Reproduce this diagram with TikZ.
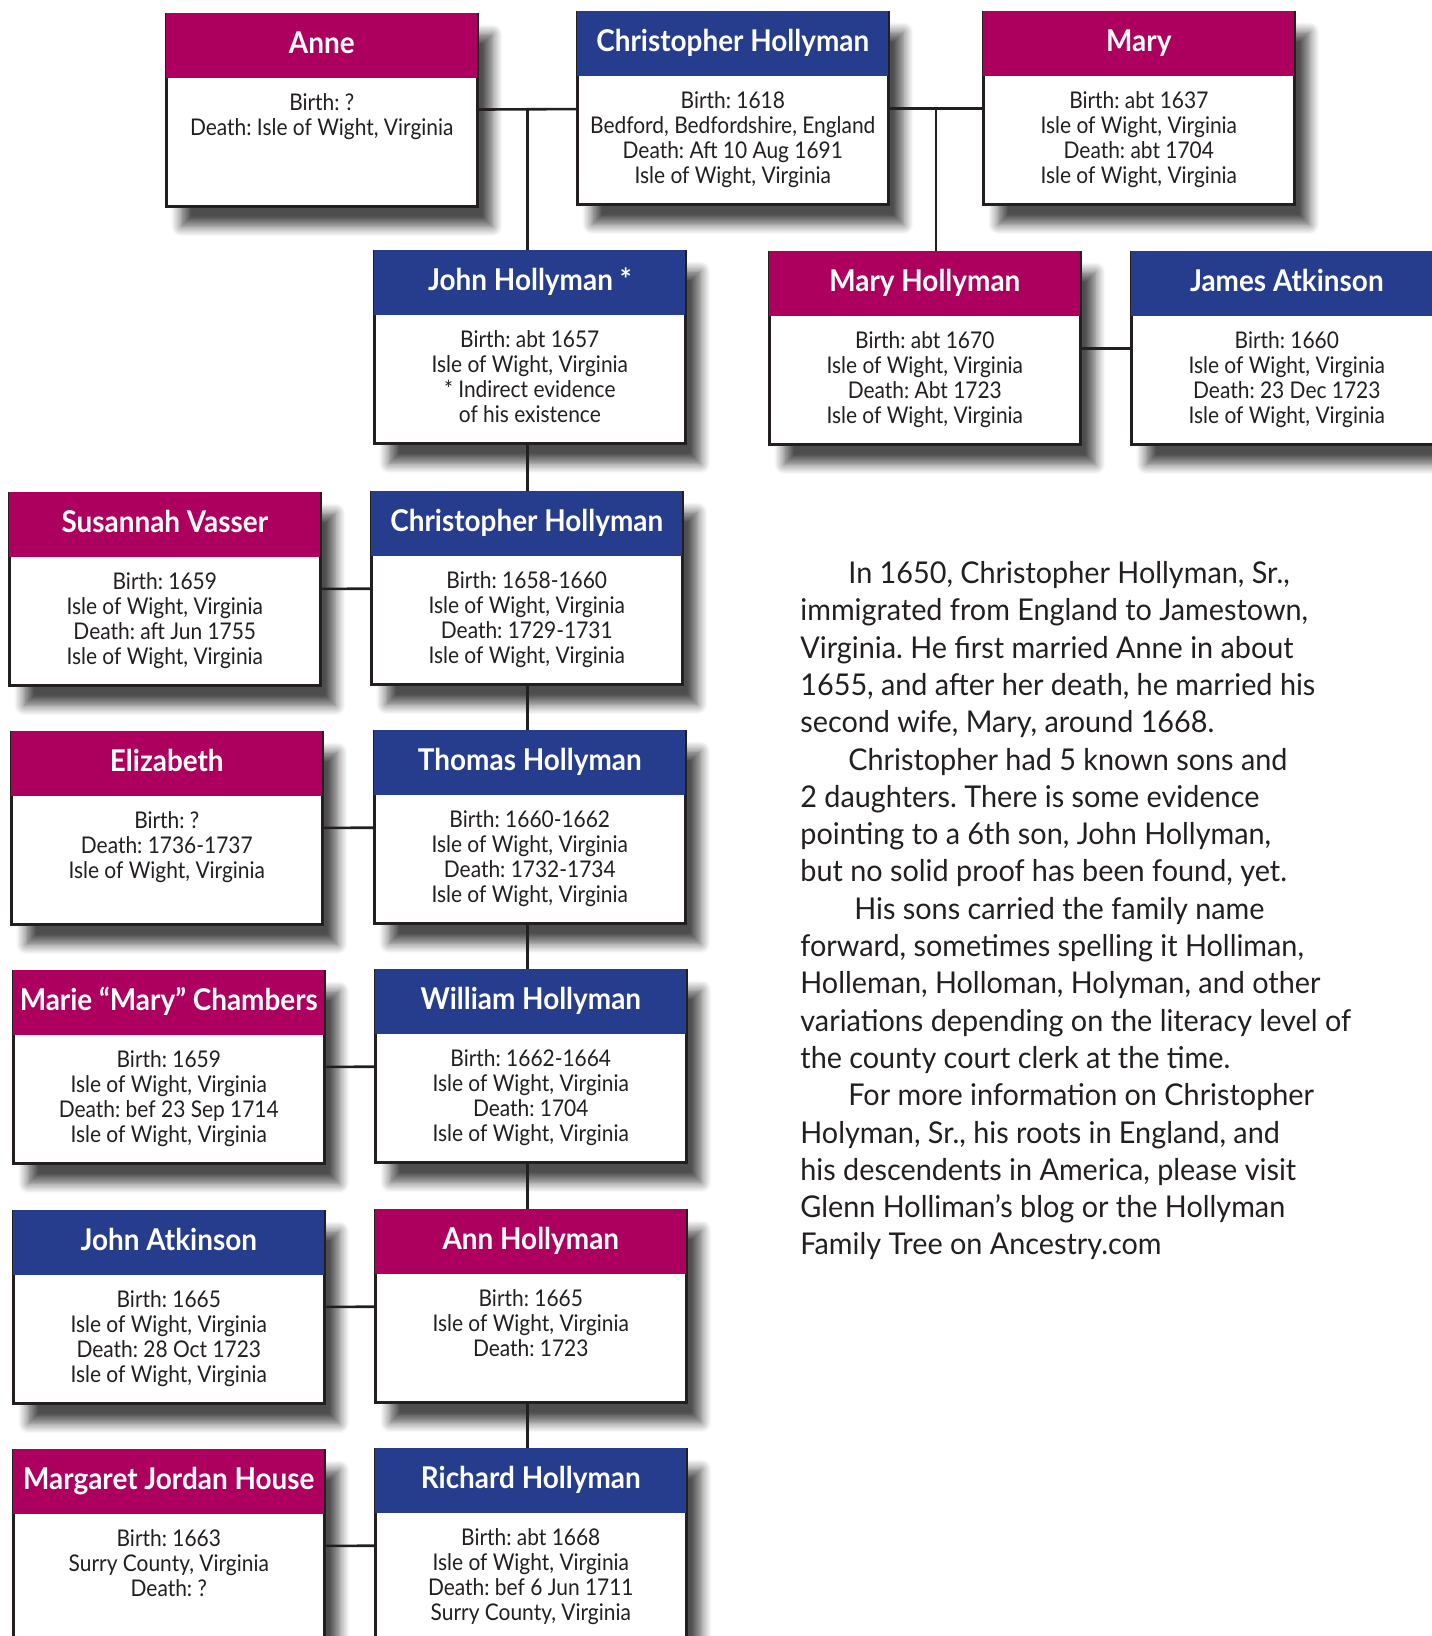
\documentclass[tikz,border=0pt]{standalone}
\usepackage{fontspec}
\setmainfont{Lato}
\newfontfamily\headfont{Lato}[FakeStretch=0.93]
\newfontfamily\infofont{Lato}[FakeStretch=0.91]
\newfontfamily\storyfont{Lato}[FakeStretch=0.96]
\usetikzlibrary{calc,shadows.blur}
\definecolor{rose}{RGB}{173,0,94}
\definecolor{navy}{RGB}{37,61,140}
\definecolor{ink}{RGB}{35,31,32}
\frenchspacing

\begin{document}
\begin{tikzpicture}[x=0.5pt,y=-0.5pt,
    card/.style={draw=ink,line width=1.3pt,fill=white,inner sep=0pt,anchor=north west,
      blur shadow={shadow xshift=7.5pt,shadow yshift=-10pt,shadow blur radius=5pt,shadow blur steps=8,shadow opacity=70},
      text=ink,font={\infofont\fontsize{11.5pt}{12.5pt}\selectfont},
      execute at begin node={\begin{minipage}[t][96pt][t]{155.5pt}\centering\vspace*{39.5pt}},
      execute at end node={\end{minipage}}},
    head/.style={fill=#1,text=white,font={\headfont\bfseries\fontsize{15pt}{17pt}\selectfont},
      minimum width=155.5pt,minimum height=32.5pt,inner sep=0pt,anchor=north,
      text height=10.5pt,text depth=2.5pt},
    tie/.style={draw=ink,line width=1.3pt}]
\useasboundingbox (0,0) rectangle (1431,1636);

% parents
\node[card] (anne) at (165,13) {Birth: ?\\Death: Isle of Wight, Virginia};
\node[head=rose] (anne-h) at (anne.north) {Anne};
\node[card] (chris) at (576,11) {Birth: 1618\\Bedford, Bedfordshire, England\\Death: Aft 10 Aug 1691\\Isle of Wight, Virginia};
\node[head=navy] (chris-h) at (chris.north) {Christopher Hollyman};
\node[card] (mary) at (982,11) {Birth: abt 1637\\Isle of Wight, Virginia\\Death: abt 1704\\Isle of Wight, Virginia};
\node[head=rose] (mary-h) at (mary.north) {Mary};

% second row
\node[card] (john) at (373,250) {Birth: abt 1657\\Isle of Wight, Virginia\\{}* Indirect evidence\\of his existence};
\node[head=navy] (john-h) at (john.north) {John Hollyman *};
\node[card] (maryh) at (768,251) {Birth: abt 1670\\Isle of Wight, Virginia\\Death: Abt 1723\\Isle of Wight, Virginia};
\node[head=rose] (maryh-h) at (maryh.north) {Mary Hollyman};
\node[card] (james) at (1130,251) {Birth: 1660\\Isle of Wight, Virginia\\Death: 23 Dec 1723\\Isle of Wight, Virginia};
\node[head=navy] (james-h) at (james.north) {James Atkinson};

% sons and their wives
\node[card] (susannah) at (8,492) {Birth: 1659\\Isle of Wight, Virginia\\Death: aft Jun 1755\\Isle of Wight, Virginia};
\node[head=rose] (susannah-h) at (susannah.north) {Susannah Vasser};
\node[card] (chrisjr) at (370,491) {Birth: 1658-1660\\Isle of Wight, Virginia\\Death: 1729-1731\\Isle of Wight, Virginia};
\node[head=navy] (chrisjr-h) at (chrisjr.north) {Christopher Hollyman};
\node[card] (elizabeth) at (10,731) {Birth: ?\\Death: 1736-1737\\Isle of Wight, Virginia};
\node[head=rose] (elizabeth-h) at (elizabeth.north) {Elizabeth};
\node[card] (thomas) at (373,730) {Birth: 1660-1662\\Isle of Wight, Virginia\\Death: 1732-1734\\Isle of Wight, Virginia};
\node[head=navy] (thomas-h) at (thomas.north) {Thomas Hollyman};
\node[card] (marie) at (12,970) {Birth: 1659\\Isle of Wight, Virginia\\Death: bef 23 Sep 1714\\Isle of Wight, Virginia};
\node[head=rose] (marie-h) at (marie.north) {Marie “Mary” Chambers};
\node[card] (william) at (374,969) {Birth: 1662-1664\\Isle of Wight, Virginia\\Death: 1704\\Isle of Wight, Virginia};
\node[head=navy] (william-h) at (william.north) {William Hollyman};
\node[card] (johna) at (12,1210) {Birth: 1665\\Isle of Wight, Virginia\\Death: 28 Oct 1723\\Isle of Wight, Virginia};
\node[head=navy] (johna-h) at (johna.north) {John Atkinson};
\node[card] (ann) at (374,1209) {Birth: 1665\\Isle of Wight, Virginia\\Death: 1723};
\node[head=rose] (ann-h) at (ann.north) {Ann Hollyman};
\node[card] (margaret) at (12,1449) {Birth: 1663\\Surry County, Virginia\\Death: ?};
\node[head=rose] (margaret-h) at (margaret.north) {Margaret Jordan House};
\node[card] (richard) at (374,1448) {Birth: abt 1668\\Isle of Wight, Virginia\\Death: bef 6 Jun 1711\\Surry County, Virginia};
\node[head=navy] (richard-h) at (richard.north) {Richard Hollyman};

% couples and descent
\coordinate (m1) at ($(anne.east)!.5!(chris.west)$);
\coordinate (m2) at ($(chris.east)!.5!(mary.west)$);
\draw[tie] (anne) -- (chris);
\draw[tie] (chris) -- (mary);
\draw[tie] (m1) -- (m1 |- john.north);
\draw[tie] (m2) -- (m2 |- maryh.north);
\draw[tie] (maryh) -- (james);
\draw[tie] (m1 |- john.south) -- (m1 |- chrisjr.north);
\draw[tie] (m1 |- chrisjr.south) -- (m1 |- thomas.north);
\draw[tie] (m1 |- thomas.south) -- (m1 |- william.north);
\draw[tie] (m1 |- william.south) -- (m1 |- ann.north);
\draw[tie] (m1 |- ann.south) -- (m1 |- richard.north);
\draw[tie] (susannah) -- (chrisjr);
\draw[tie] (elizabeth) -- (thomas);
\draw[tie] (marie) -- (william);
\draw[tie] (johna) -- (ann);
\draw[tie] (margaret) -- (richard);

% the story
\node[anchor=north west,inner sep=0pt,align=left,text=ink,
  font={\storyfont\fontsize{15pt}{18.65pt}\selectfont}] (story) at (800,561)
  {\hspace*{24pt}In 1650, Christopher Hollyman, Sr.,\\
   immigrated from England to Jamestown,\\
   Virginia. He first married Anne in about\\
   1655, and after her death, he married his\\
   second wife, Mary, around 1668.\\
   \hspace*{24pt}Christopher had 5 known sons and\\
   2 daughters. There is some evidence\\
   pointing to a 6th son, John Hollyman,\\
   but no solid proof has been found, yet.\\
   \hspace*{27pt}His sons carried the family name\\
   forward, sometimes spelling it Holliman,\\
   Holleman, Holloman, Holyman, and other\\
   variations depending on the literacy level of\\
   the county court clerk at the time.\\
   \hspace*{24pt}For more information on Christopher\\
   Holyman, Sr., his roots in England, and\\
   his descendents in America, please visit\\
   Glenn Holliman’s blog or the Hollyman\\
   Family Tree on Ancestry.com};
\end{tikzpicture}
\end{document}
